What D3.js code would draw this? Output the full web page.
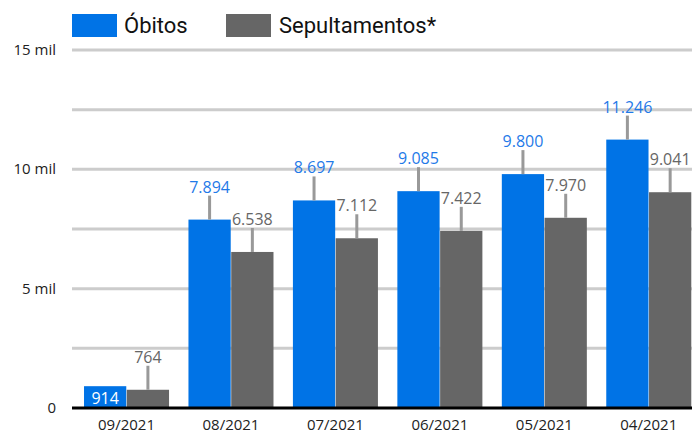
<!DOCTYPE html>
<html><head><meta charset="utf-8">
<script src="https://cdn.jsdelivr.net/npm/d3@7"></script>
<style>body{margin:0;background:#fff}svg{display:block}text{font-family:"Open Sans","Noto Sans",sans-serif}</style>
</head><body><svg id="c" width="693" height="433"></svg>
<script>
const categories = ["09/2021","08/2021","07/2021","06/2021","05/2021","04/2021"];
const obitos = [914, 7894, 8697, 9085, 9800, 11246];
const sepultamentos = [764, 6538, 7112, 7422, 7970, 9041];
const seriesNames = ["Óbitos","Sepultamentos*"];
const yTicks = [0, 2500, 5000, 7500, 10000, 12500, 15000];
const yTickLabels = ["0","","5 mil","","10 mil","","15 mil"];

(function(){
const colors = ["#0073e6","#666666"];
const labelColors = ["#1f7ae8","#666666"];
const svg = d3.select("#c");
const mL = 72, mR = 692, mT = 50, mB = 408;
const x = d3.scaleBand().domain(categories).range([74.3, 701]).paddingInner(0.186).paddingOuter(0.093);
const x1 = d3.scaleBand().domain([0,1]).range([0, x.bandwidth()]).paddingInner(0.012);
const y = d3.scaleLinear().domain([0, 15000]).range([mB, mT]);

svg.append("g").selectAll("line").data(yTicks.slice(1)).join("line")
  .attr("x1", mL).attr("x2", mR).attr("y1", d=>y(d)).attr("y2", d=>y(d))
  .attr("stroke", "#cccccc").attr("stroke-width", 3);
svg.append("g").selectAll("text").data(yTicks).join("text")
  .attr("x", 56).attr("y", d=>y(d)+5).attr("text-anchor","end")
  .attr("font-size", 15).attr("fill","#222").text((d,i)=>yTickLabels[i]);

const series = [obitos, sepultamentos];
series.forEach((vals, s) => {
  const g = svg.append("g");
  categories.forEach((c, i) => {
    const v = vals[i];
    const bx = x(c) + x1(s), bw = x1.bandwidth(), by = y(v);
    g.append("rect").attr("x", bx).attr("y", by).attr("width", bw).attr("height", mB - by).attr("fill", colors[s]);
    const cx = bx + bw/2;
    const fmt = d3.format(",")(v).replace(/,/g, ".");
    if (mB - by < 30 && s === 0) {
      g.append("text").attr("x", cx).attr("y", mB - 4).attr("text-anchor","middle")
        .attr("font-size", 16).attr("fill","#fff").text(fmt);
    } else {
      g.append("line").attr("x1", cx).attr("x2", cx).attr("y1", by).attr("y2", by - 24)
        .attr("stroke", "#999").attr("stroke-width", 3);
      g.append("text").attr("x", cx).attr("y", by - 27).attr("text-anchor","middle")
        .attr("font-size", 16).attr("fill", labelColors[s]).text(fmt);
    }
  });
});

svg.append("line").attr("x1", mL).attr("x2", mR).attr("y1", mB).attr("y2", mB)
  .attr("stroke", "#000").attr("stroke-width", 3);

svg.append("g").selectAll("text").data(categories).join("text")
  .attr("x", d=>x(d)+x.bandwidth()/2).attr("y", 430).attr("text-anchor","middle")
  .attr("font-size", 15).attr("fill","#222").text(d=>d);

const leg = [{x:72, tx:124},{x:226, tx:279}];
seriesNames.forEach((n, i) => {
  svg.append("rect").attr("x", leg[i].x).attr("y", 14).attr("width", 45).attr("height", 23).attr("fill", colors[i]);
  svg.append("text").attr("x", leg[i].tx).attr("y", 33).attr("font-size", 22)
    .style("font-family","Roboto,sans-serif").attr("fill","#111").text(n);
});
})();
</script></body></html>
